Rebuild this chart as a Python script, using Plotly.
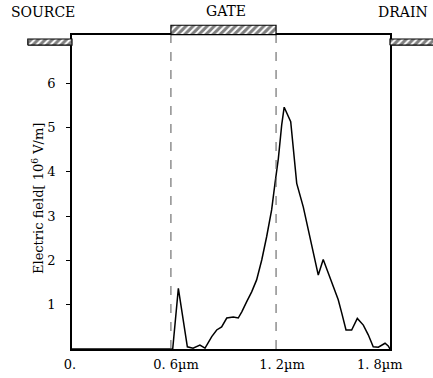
import plotly.graph_objects as go

# ---- data (position along channel in µm, field in 10^6 V/m) ----
pos_um = [0.0, 0.57, 0.602, 0.653, 0.685, 0.724, 0.753, 0.791, 0.819, 0.847, 0.876,
          0.913, 0.941, 0.961, 0.989, 1.017, 1.045, 1.074, 1.102, 1.130, 1.149,
          1.168, 1.187, 1.201, 1.238, 1.272, 1.309, 1.347, 1.375, 1.394, 1.422,
          1.451, 1.479, 1.507, 1.527, 1.551, 1.583, 1.615, 1.649, 1.677, 1.705,
          1.734, 1.772, 1.790, 1.80]
field = [0.0, 0.0, 1.37, 0.05, 0.02, 0.09, 0.02, 0.28, 0.43, 0.50, 0.70,
         0.72, 0.70, 0.84, 1.07, 1.29, 1.56, 2.01, 2.54, 3.14, 3.74,
         4.30, 5.06, 5.46, 5.13, 3.74, 3.21, 2.54, 2.01, 1.67, 2.02,
         1.71, 1.37, 1.11, 0.81, 0.43, 0.43, 0.69, 0.54, 0.32, 0.05,
         0.04, 0.13, 0.07, 0.0]

x_ticks = [0.0, 0.6, 1.2, 1.8]
x_tick_text = ["0.", "0. 6µm", "1. 2µm", "1. 8µm&nbsp;&nbsp;&nbsp;&nbsp;"]
y_ticks = [1, 2, 3, 4, 5, 6]
y_tick_text = ["1", "2", "3", "4", "5", "6"]

gate_edges = [0.56, 1.155]          # dashed gate-edge lines (µm)
electrode_names = ["SOURCE", "GATE", "DRAIN"]
electrode_x0 = [-0.25, 0.56, 1.80]
electrode_x1 = [0.0, 1.155, 2.05]
electrode_y0 = [6.86, 7.10, 6.86]
electrode_y1 = [7.00, 7.31, 7.00]

# ---- layout geometry (window pixels) ----
W, H = 433, 378
L, R, T, B = 72, 390, 35, 349
x_range = [0.0, 1.8]
y_range = [0.0, 7.09]
kx = (R - L) / (x_range[1] - x_range[0])
ky = (B - T) / (y_range[1] - y_range[0])
x2_range = [x_range[0] - L / kx, x_range[0] + (W - L) / kx]
y2_range = [y_range[0] - (H - B) / ky, y_range[0] + B / ky]

FONT = "DejaVu Serif"

fig = go.Figure()

# field curve
fig.add_trace(go.Scatter(x=pos_um, y=field, mode="lines",
                         line=dict(color="black", width=1.5),
                         xaxis="x", yaxis="y", showlegend=False, hoverinfo="skip"))

# gate edge lines
for g in gate_edges:
    fig.add_trace(go.Scatter(x=[g, g], y=y_range, mode="lines",
                             line=dict(color="#555555", width=1, dash="dash"),
                             xaxis="x", yaxis="y", showlegend=False, hoverinfo="skip"))

# electrodes (hatched)
for x0, x1, y0, y1 in zip(electrode_x0, electrode_x1, electrode_y0, electrode_y1):
    fig.add_trace(go.Scatter(x=[x0, x1, x1, x0, x0], y=[y0, y0, y1, y1, y0],
                             mode="lines", fill="toself",
                             fillcolor="white",
                             fillpattern=dict(shape="/", fgcolor="black", bgcolor="white",
                                              size=5, solidity=0.6),
                             line=dict(color="black", width=1.2),
                             xaxis="x2", yaxis="y2", showlegend=False, hoverinfo="skip"))

fig.update_layout(
    width=W, height=H, autosize=False,
    margin=dict(l=0, r=0, t=0, b=0, autoexpand=False),
    paper_bgcolor="white", plot_bgcolor="rgba(0,0,0,0)",
    font=dict(family=FONT, size=13, color="black"),
    xaxis=dict(domain=[L / W, R / W], range=x_range, anchor="y", automargin=False,
               showline=True, mirror=True, linecolor="black", linewidth=1.5,
               showgrid=False, zeroline=False, ticks="",
               tickvals=x_ticks, ticktext=x_tick_text, ticklabelstandoff=3,
               ticklabelshift=-2,
               tickfont=dict(family=FONT, size=13)),
    yaxis=dict(domain=[(H - B) / H, (H - T) / H], range=y_range, anchor="x", automargin=False,
               showline=True, mirror=True, linecolor="black", linewidth=1.5,
               showgrid=False, zeroline=False, ticks="outside", ticklen=4,
               tickwidth=1, tickcolor="black",
               tickvals=y_ticks, ticktext=y_tick_text, ticklabelstandoff=8,
               tickfont=dict(family=FONT, size=13)),
    xaxis2=dict(domain=[0, 1], range=x2_range, anchor="y2", visible=False, automargin=False),
    yaxis2=dict(domain=[0, 1], range=y2_range, anchor="x2", visible=False, automargin=False),
)

# top labels (window pixel centres converted to paper fractions)
label_px = [43, 226, 403]
label_py = [12, 11, 12.5]
for name, px, py in zip(electrode_names, label_px, label_py):
    fig.add_annotation(text=name, x=px / W, y=1 - py / H,
                       xref="paper", yref="paper",
                       showarrow=False, xanchor="center", yanchor="middle",
                       font=dict(family=FONT, size=14))

fig.add_annotation(text="Electric field[ 10<sup>6</sup> V/m]",
                   x=38 / W, y=1 - 199 / H,
                   xref="paper", yref="paper", showarrow=False, textangle=-90,
                   xanchor="center", yanchor="middle",
                   font=dict(family=FONT, size=13))

# the page body's default 8px margin would shift the 433x378 figure off the window
fig.write_html(
    "out.html",
    config={"responsive": False, "displayModeBar": False},
    post_script="document.documentElement.style.overflow='hidden';"
                "document.body.style.margin='0';document.body.style.overflow='hidden';",
)
